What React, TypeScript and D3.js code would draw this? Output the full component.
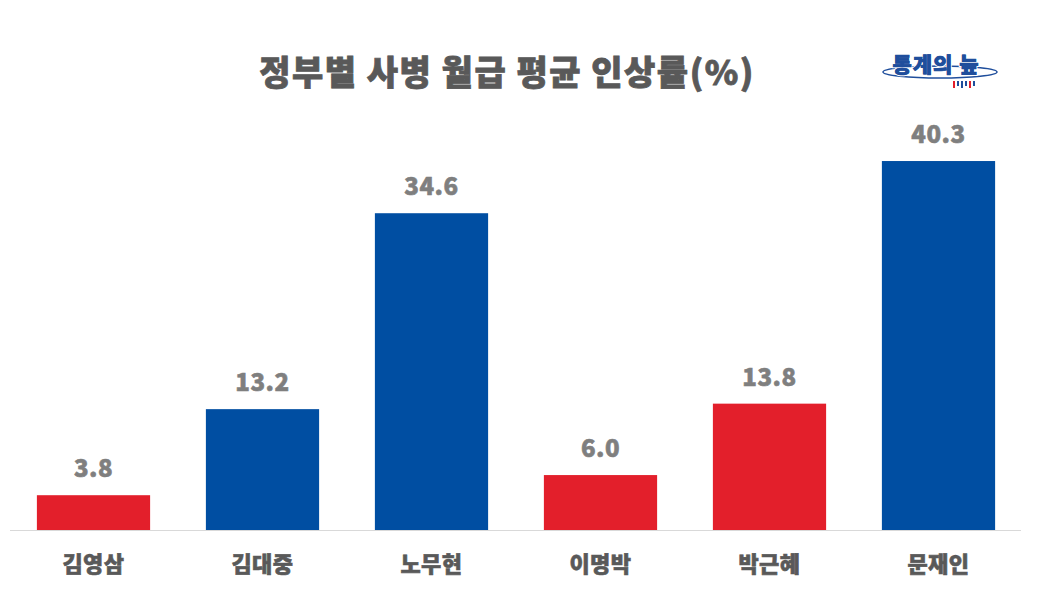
import { useEffect, useRef } from 'react';
import * as d3 from 'd3';

const categories = ['김영삼', '김대중', '노무현', '이명박', '박근혜', '문재인'];
const values = [3.8, 13.2, 34.6, 6.0, 13.8, 40.3];
const parties = ['red', 'blue', 'blue', 'red', 'red', 'blue'];
const title = '정부별 사병 월급 평균 인상률(%)';
const logoText = '통계의 늪';

const FONT = '"Noto Sans CJK KR", "Noto Sans", sans-serif';
const partyColor: Record<string, string> = { red: '#E31F2B', blue: '#004EA2' };

export default function App() {
  const svgRef = useRef<SVGSVGElement>(null);

  useEffect(() => {
    if (!svgRef.current) return;
    const svg = d3.select(svgRef.current);
    svg.selectAll('*').remove();

    const x = d3.scaleBand<string>().domain(categories).range([9, 1023]).paddingInner(0.33).paddingOuter(0.165);
    const y = d3.scaleLinear().domain([0, 45]).range([530, 118]);

    // title
    svg.append('text')
      .attr('x', 507)
      .attr('y', 85)
      .attr('text-anchor', 'middle')
      .attr('font-family', FONT)
      .attr('font-weight', 900)
      .attr('font-size', 34)
      .attr('letter-spacing', 1.5)
      .attr('fill', '#595959')
      .attr('stroke', '#595959').attr('stroke-width', 0.8)
      .text(title);

    // logo
    const logo = svg.append('g').attr('transform', 'translate(940, 72)');
    logo.append('ellipse')
      .attr('rx', 57).attr('ry', 6)
      .attr('fill', 'none').attr('stroke', '#1F4E9C').attr('stroke-width', 1.5);
    logo.append('text')
      .attr('x', -4)
      .attr('y', 0)
      .attr('text-anchor', 'middle')
      .attr('font-family', FONT)
      .attr('font-weight', 900)
      .attr('font-size', 21)
      .attr('letter-spacing', 1)
      .attr('fill', '#1F4E9C')
      .attr('stroke', '#ffffff').attr('stroke-width', 2.5).attr('paint-order', 'stroke')
      .text(logoText);
    logo.append('text')
      .attr('x', -4)
      .attr('y', 0)
      .attr('text-anchor', 'middle')
      .attr('font-family', FONT)
      .attr('font-weight', 900)
      .attr('font-size', 21)
      .attr('letter-spacing', 1)
      .attr('fill', '#1F4E9C')
      .attr('stroke', '#1F4E9C').attr('stroke-width', 0.6)
      .text(logoText);
    const ticks = [
      { dx: 13, h: 7, c: '#E31F2B' },
      { dx: 17, h: 5, c: '#1F4E9C' },
      { dx: 21, h: 7, c: '#1F4E9C' },
      { dx: 25, h: 5, c: '#1F4E9C' },
      { dx: 29, h: 7, c: '#E31F2B' },
      { dx: 33, h: 5, c: '#1F4E9C' },
    ];
    logo.selectAll('rect.tick').data(ticks).enter().append('rect')
      .attr('x', d => d.dx).attr('y', 9).attr('width', 2).attr('height', d => d.h)
      .attr('fill', d => d.c);

    // bars
    svg.selectAll('rect.bar')
      .data(values)
      .enter()
      .append('rect')
      .attr('class', 'bar')
      .attr('x', (_, i) => x(categories[i])!)
      .attr('y', d => y(d))
      .attr('width', x.bandwidth())
      .attr('height', d => y(0) - y(d))
      .attr('fill', (_, i) => partyColor[parties[i]]);

    // axis line
    svg.append('line')
      .attr('x1', 10).attr('x2', 1021)
      .attr('y1', y(0) + 0.5).attr('y2', y(0) + 0.5)
      .attr('stroke', '#D9D9D9').attr('stroke-width', 1);

    // value labels
    svg.selectAll('text.value')
      .data(values)
      .enter()
      .append('text')
      .attr('class', 'value')
      .attr('x', (_, i) => x(categories[i])! + x.bandwidth() / 2)
      .attr('y', d => y(d) - 18)
      .attr('text-anchor', 'middle')
      .attr('font-family', FONT)
      .attr('font-weight', 900)
      .attr('font-size', 24)
      .attr('letter-spacing', 0.5)
      .attr('fill', '#7F7F7F')
      .attr('stroke', '#7F7F7F').attr('stroke-width', 0.6)
      .text(d => d.toFixed(1));

    // category labels
    svg.selectAll('text.cat')
      .data(categories)
      .enter()
      .append('text')
      .attr('class', 'cat')
      .attr('x', d => x(d)! + x.bandwidth() / 2)
      .attr('y', 572)
      .attr('text-anchor', 'middle')
      .attr('font-family', FONT)
      .attr('font-weight', 900)
      .attr('font-size', 22)
      .attr('letter-spacing', 0.5)
      .attr('fill', '#595959')
      .attr('stroke', '#595959').attr('stroke-width', 0.6)
      .text(d => d);
  }, []);

  return (
    <svg
      ref={svgRef}
      width={1038}
      height={609}
      viewBox="0 0 1038 609"
      style={{ position: 'absolute', left: 0, top: 0, background: '#ffffff' }}
    />
  );
}
